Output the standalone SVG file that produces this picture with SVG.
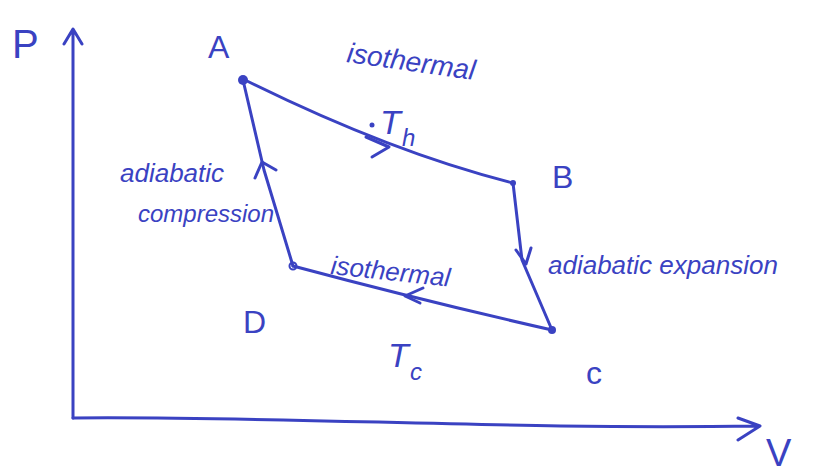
<svg xmlns="http://www.w3.org/2000/svg" width="837" height="476" viewBox="0 0 837 476">
<style>
.ln{fill:none;stroke:#3a42c2;stroke-width:3;stroke-linecap:round;stroke-linejoin:round}
.t{fill:#3a42c2;font-family:"Liberation Sans",sans-serif;font-style:italic}
.lbl{fill:#3a42c2;font-family:"Liberation Sans",sans-serif}
.dot{fill:#3a42c2}
</style>
<rect width="837" height="476" fill="#fff"/>
<g id="axes">
<path class="ln" d="M73,418 L73,30 M64,44 L73,29 L82,44"/>
<path class="ln" d="M73,418 C300,416 500,430 758,426 M738,418 L760,426 L738,440"/>
<text class="lbl" x="12" y="58" font-size="40">P</text>
<text class="lbl" x="766" y="466" font-size="38">V</text>
</g>
<g id="connectors">
<path class="ln" d="M245,80 Q390,152 513,183"/>
<path class="ln" d="M366,137 L389,147 L372,157"/>
<path class="ln" d="M513,183 L522,260 L552,330"/>
<path class="ln" d="M516,250 L526,264 L531,248"/>
<path class="ln" d="M552,330 Q420,300 293,266"/>
<path class="ln" d="M423,288 L405,296 L420,303"/>
<path class="ln" d="M293,266 L264,170 L243,80"/>
<path class="ln" d="M255,178 L262,162 L276,170"/>
</g>
<g id="A">
<circle class="dot" cx="243" cy="80" r="5"/>
<text class="lbl" x="208" y="58" font-size="32">A</text>
</g>
<g id="B">
<circle class="dot" cx="513" cy="183" r="3"/>
<text class="lbl" x="552" y="188" font-size="32">B</text>
</g>
<g id="C">
<circle class="dot" cx="552" cy="330" r="4"/>
<text class="lbl" x="586" y="384" font-size="32">c</text>
</g>
<g id="D">
<circle cx="293" cy="266" r="3.5" fill="none" stroke="#3a42c2" stroke-width="2"/>
<text class="lbl" x="243" y="333" font-size="32">D</text>
</g>
<g id="labels">
<circle class="dot" cx="372" cy="125" r="2.5"/>
<text class="t" x="346" y="62" font-size="28" transform="rotate(8 346 62)">isothermal</text>
<text class="t" x="380" y="134" font-size="34">T</text>
<text class="t" x="402" y="146" font-size="24">h</text>
<text class="t" x="120" y="182" font-size="26">adiabatic</text>
<text class="t" x="138" y="222" font-size="24">compression</text>
<text class="t" x="330" y="274" font-size="26" transform="rotate(6 330 274)">isothermal</text>
<text class="t" x="548" y="274" font-size="26">adiabatic expansion</text>
<text class="t" x="388" y="367" font-size="34">T</text>
<text class="t" x="410" y="380" font-size="24">c</text>
</g>
</svg>
